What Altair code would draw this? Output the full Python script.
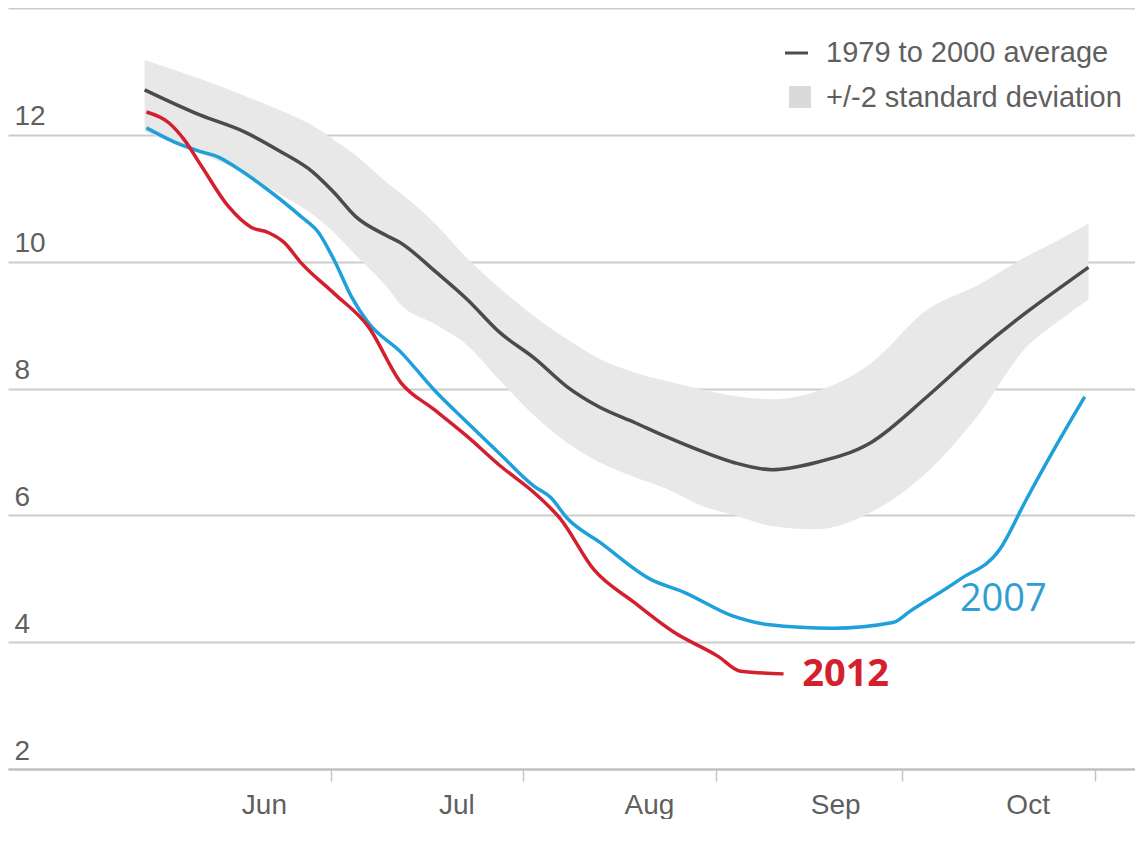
import altair as alt
import pandas as pd

# ---- data (x = days since 1 June, y = million km²) ----
month_ticks = [30, 61, 92, 122, 153]
month_labels = ["Jun", "Jul", "Aug", "Sep", "Oct"]
y_ticks = [2, 4, 6, 8, 10, 12, 14]

avg_days = [0, 9, 16, 22, 27, 30.5, 34, 39, 41, 47, 52, 57, 63, 68, 73, 79, 84,
            90, 95, 101, 108, 117, 126, 134, 142, 147, 152]
avg_vals = [12.71, 12.31, 12.05, 11.73, 11.42, 11.09, 10.71, 10.41, 10.31, 9.83,
            9.40, 8.90, 8.46, 8.03, 7.72, 7.46, 7.24, 7.00, 6.83, 6.72, 6.83,
            7.15, 7.87, 8.57, 9.20, 9.56, 9.91]
band_hi = [13.18, 12.88, 12.62, 12.38, 12.15, 11.92, 11.68, 11.25, 11.10, 10.58,
           10.05, 9.60, 9.12, 8.78, 8.48, 8.25, 8.12, 7.98, 7.88, 7.83, 7.95,
           8.40, 9.24, 9.62, 10.08, 10.33, 10.60]
band_lo = [12.05, 11.70, 11.40, 11.05, 10.75, 10.46, 10.10, 9.60, 9.35, 9.00,
           8.68, 8.15, 7.55, 7.15, 6.85, 6.60, 6.42, 6.14, 6.00, 5.83, 5.78,
           6.05, 6.68, 7.55, 8.65, 9.05, 9.40]

days_2007 = [0.3, 5.9, 9.2, 11.9, 14.5, 19.9, 25.2, 28, 30.5, 33.3, 36, 41.3,
             46.6, 52, 57.4, 62.7, 65.4, 68.1, 73.4, 81.5, 86.8, 94.8, 100.3,
             110.9, 120.5, 123.3, 131.3, 137.7, 142, 147.4, 151.4]
vals_2007 = [12.11, 11.84, 11.73, 11.65, 11.50, 11.13, 10.71, 10.46, 10.03, 9.45,
             9.04, 8.57, 7.98, 7.46, 6.95, 6.46, 6.28, 5.95, 5.57, 4.99, 4.79,
             4.41, 4.28, 4.22, 4.31, 4.49, 4.99, 5.46, 6.25, 7.20, 7.87]

days_2012 = [0.3, 3.9, 6.4, 9.2, 13.5, 17.2, 19.9, 22.5, 25.2, 30.5, 36, 41.3,
             46.6, 52, 57.4, 62.7, 67, 72.3, 78.8, 85.2, 92.3, 96, 102.9]
vals_2012 = [12.36, 12.19, 11.92, 11.50, 10.87, 10.54, 10.46, 10.30, 9.98, 9.50,
             8.98, 8.09, 7.67, 7.24, 6.77, 6.36, 5.94, 5.15, 4.63, 4.16, 3.78,
             3.54, 3.50]

series_labels = ["2012", "2007"]
series_label_days = [105.9, 131.3]
series_label_vals = [3.48, 4.67]
legend_labels = ["1979 to 2000 average", "+/-2 standard deviation"]

# ---- colours / styles ----
RED = "#d41f2e"
BLUE = "#1fa0da"
DARK = "#4b4b4b"
BAND = "#e8e8e8"
GRID = "#cccccc"
LABEL = "#5f5f5f"
AXIS_FONT = "Liberation Sans"

avg_df = pd.DataFrame({"day": avg_days, "avg": avg_vals, "hi": band_hi, "lo": band_lo})
df07 = pd.DataFrame({"day": days_2007, "v": vals_2007})
df12 = pd.DataFrame({"day": days_2012, "v": vals_2012})

label_expr = "".join(
    f"datum.value == {t} ? '{m}' : " for t, m in zip(month_ticks, month_labels)
) + "''"

x_scale = alt.Scale(domain=[-22, 159.5], nice=False, zero=False)
y_scale = alt.Scale(domain=[2, 14], nice=False, zero=False)

x_enc = alt.X(
    "day:Q",
    scale=x_scale,
    axis=alt.Axis(
        values=month_ticks,
        labelExpr=label_expr,
        labelOffset=-67,
        title=None,
        grid=False,
        domain=True,
        domainColor="#bdbdbd",
        domainWidth=2,
        ticks=True,
        tickSize=12,
        tickColor="#c4c4c4",
        tickWidth=1.5,
        labelPadding=10,
        labelFont=AXIS_FONT,
        labelFontSize=28,
        labelColor=LABEL,
    ),
)

y_axis = alt.Axis(
    values=y_ticks,
    format="d",
    labelExpr="datum.value >= 14 ? '' : datum.label",
    title=None,
    grid=True,
    gridColor=GRID,
    gridWidth=2,
    domain=False,
    ticks=False,
    tickSize=0,
    labelAlign="left",
    labelBaseline="alphabetic",
    labelPadding=-6,
    labelOffset=-10,
    labelFont=AXIS_FONT,
    labelFontSize=28,
    labelColor=LABEL,
)

band = alt.Chart(avg_df).mark_area(color=BAND, opacity=1, interpolate="monotone").encode(
    x=x_enc,
    y=alt.Y("hi:Q", scale=y_scale, axis=y_axis),
    y2="lo:Q",
)

avg_line = alt.Chart(avg_df).mark_line(color=DARK, strokeWidth=3.5, interpolate="monotone").encode(
    x="day:Q", y="avg:Q"
)

line07 = alt.Chart(df07).mark_line(color=BLUE, strokeWidth=3.5, interpolate="monotone").encode(
    x="day:Q", y=alt.Y("v:Q")
)
line12 = alt.Chart(df12).mark_line(color=RED, strokeWidth=3.5, interpolate="monotone").encode(
    x="day:Q", y=alt.Y("v:Q")
)

lab12 = alt.Chart(pd.DataFrame({"day": [series_label_days[0]], "v": [series_label_vals[0]],
                                "t": [series_labels[0]]})).mark_text(
    align="left", baseline="middle", font="Open Sans", fontWeight="bold",
    fontSize=38, color=RED
).encode(x="day:Q", y="v:Q", text="t:N")

lab07 = alt.Chart(pd.DataFrame({"day": [series_label_days[1]], "v": [series_label_vals[1]],
                                "t": [series_labels[1]]})).mark_text(
    align="left", baseline="middle", font="Open Sans", fontWeight="normal",
    fontSize=38, color="#2f9ed3"
).encode(x="day:Q", y="v:Q", text="t:N")

# ---- legend (top right) ----
leg_line = alt.Chart(pd.DataFrame({"t": [legend_labels[0]]})).mark_rule(
    color=DARK, strokeWidth=3
).encode(x=alt.value(777), x2=alt.value(800), y=alt.value(45))

leg_sq = alt.Chart(pd.DataFrame({"t": [legend_labels[1]]})).mark_square(
    color="#dadada", opacity=1, size=484
).encode(x=alt.value(792), y=alt.value(89))

leg_txt1 = alt.Chart(pd.DataFrame({"t": [legend_labels[0]]})).mark_text(
    align="left", baseline="middle", font=AXIS_FONT, fontSize=29, color=LABEL
).encode(x=alt.value(818), y=alt.value(45), text="t:N")

leg_txt2 = alt.Chart(pd.DataFrame({"t": [legend_labels[1]]})).mark_text(
    align="left", baseline="middle", font=AXIS_FONT, fontSize=29, color=LABEL
).encode(x=alt.value(818), y=alt.value(90), text="t:N")

chart = alt.layer(
    band, avg_line, line07, line12, lab12, lab07,
    leg_line, leg_sq, leg_txt1, leg_txt2
).properties(
    width=1127, height=761, padding=0, background="white"
).configure_view(stroke=None)

chart.save("out.html", embed_options={"renderer": "svg", "actions": False})
